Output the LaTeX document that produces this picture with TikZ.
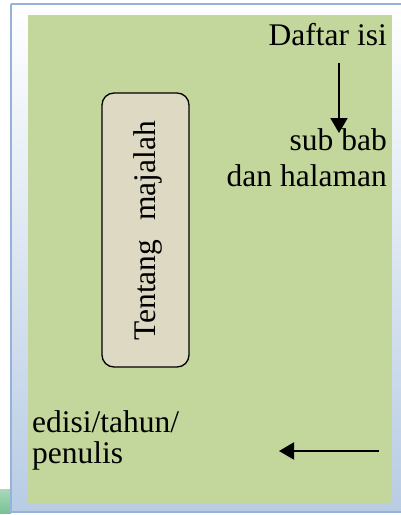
\documentclass[tikz,border=0pt]{standalone}
\usepackage{fontspec}
\setmainfont{Liberation Serif}
\usetikzlibrary{arrows.meta}
\definecolor{framebl}{RGB}{149,179,215}
\definecolor{shadebl}{RGB}{184,204,228}
\definecolor{pagegreen}{RGB}{195,214,155}
\definecolor{boxfill}{RGB}{221,217,195}
\definecolor{tealA}{RGB}{168,216,186}
\definecolor{tealB}{RGB}{122,194,152}
\tikzset{
  lbl/.style={inner sep=0pt, font=\fontsize{31.5}{37}\selectfont},
  arr/.style={line width=2pt, -{Triangle[length=15pt,width=17pt]}},
}
\begin{document}
\begin{tikzpicture}[x=1pt,y=-1pt]
\useasboundingbox (0,0) rectangle (401,515);
% teal strip bottom-left
\shade[top color=tealA, bottom color=tealB] (0,489) rectangle (11,513);
% outer frame with gradient
\shade[top color=white, bottom color=shadebl] (11,4) rectangle (410,512);
\draw[framebl, line width=2pt] (11,4) -- (410,4);
\draw[framebl, line width=2pt] (11,4) -- (11,512) -- (410,512);
% green page
\fill[pagegreen] (28,15) rectangle (392,503);
% rounded box
\draw[black, line width=1.3pt, fill=boxfill, rounded corners=12pt] (102,93) rectangle (189,367);
\node[lbl, rotate=90, anchor=base] (tm) at (155,231) {Tentang\hspace{0.6em}majalah};
% texts
\node[lbl, anchor=base east] (di) at (387,45) {Daftar isi};
\node[lbl, anchor=base east] (sb) at (387,150) {sub bab};
\node[lbl, anchor=base east] (dh) at (387,186) {dan halaman};
\node[lbl, anchor=base west] (ed) at (32,432) {edisi/tahun/};
\node[lbl, anchor=base west] (pn) at (32,463) {penulis};
% arrows
\coordinate (a1s) at (339,63);
\coordinate (a1e) at (339,133);
\coordinate (a2s) at (379,451);
\coordinate (a2e) at (279,451);
\draw[arr] (a1s) -- (a1e);
\draw[arr] (a2s) -- (a2e);
\end{tikzpicture}
\end{document}
